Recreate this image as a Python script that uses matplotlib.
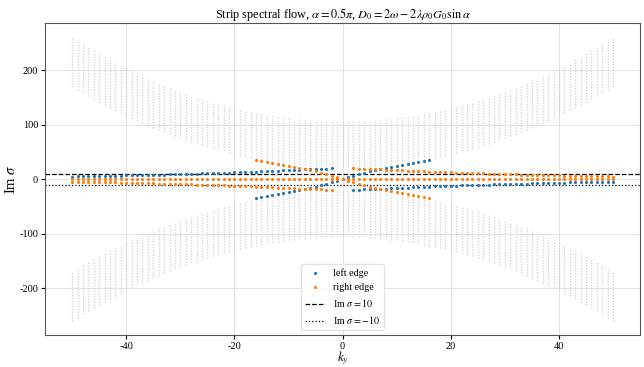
import numpy as np
import matplotlib
matplotlib.use("Agg")
import matplotlib.pyplot as plt

plt.rcParams['font.family'] = ['Liberation Serif', 'DejaVu Serif']
plt.rcParams['mathtext.fontset'] = 'stix'
plt.rcParams['axes.unicode_minus'] = False

# bulk band edges (upper band), for k_y = 0..50, symmetric in k_y
bulk_inner = [22, 22, 22, 23, 23, 23, 24, 25, 26, 27, 28, 29, 30, 32, 34, 35, 37, 39, 41, 43,
              46, 48, 51, 53, 56, 59, 62, 65, 68, 72, 75, 79, 82, 86, 90, 94, 98, 103, 107, 112,
              116, 121, 126, 131, 136, 141, 147, 152, 158, 163, 169]
bulk_outer = [106, 106, 106, 107, 107, 108, 108, 109, 110, 111, 112, 113, 115, 116, 118, 120, 122, 124, 126, 128,
              131, 133, 136, 139, 141, 144, 148, 151, 154, 158, 161, 165, 169, 173, 177, 181, 186, 190, 195, 200,
              205, 210, 215, 220, 225, 231, 236, 242, 248, 254, 260]

# flat edge branch near +-10, |k_y| = 2..50
flat_k = np.arange(2, 51)
flat_v = [19.5, 19.2, 18.9, 18.5, 18.1, 17.7, 17.3, 16.9, 16.5, 16.1, 15.6, 15.1, 14.6, 14.1, 13.7, 13.3,
          12.9, 12.5, 12.1, 11.8, 11.5, 11.2, 10.9, 10.6, 10.3, 10.0, 9.7, 9.4, 9.1, 8.8, 8.6, 8.3,
          8.1, 7.8, 7.6, 7.3, 7.1, 6.8, 6.6, 6.4, 6.2, 6.0, 5.8, 5.6, 5.4, 5.2, 5.0, 4.8, 4.6]

# chiral branch crossing zero, k_y = 0..16
steep_k = np.arange(0, 17)
steep_v = [0, 3, 6, 9, 11.5, 14, 16, 18, 20, 22, 23.5, 25, 27, 29, 31, 33, 35]

# zero mode row (right edge)
zero_k = np.arange(-50, 51)
zero_v = [0.0] * len(zero_k)

ks = np.arange(-50, 51)
inner = np.array(bulk_inner[:0:-1] + bulk_inner)
outer = np.array(bulk_outer[:0:-1] + bulk_outer)
flat_v = np.array(flat_v)
steep_v = np.array(steep_v)

fig, ax = plt.subplots(figsize=(6.44, 3.67), dpi=100)
fig.subplots_adjust(left=0.07, right=0.994, top=0.937, bottom=0.087)

ax.vlines(ks, inner, outer, colors='#d4d4d4', linestyles=(0, (1, 1)), lw=1.0, zorder=1)
ax.vlines(ks, -outer, -inner, colors='#d4d4d4', linestyles=(0, (1, 1)), lw=1.0, zorder=1)

blue_k = np.concatenate([-flat_k, flat_k, steep_k, -steep_k[1:]])
blue_v = np.concatenate([flat_v, -flat_v, steep_v, -steep_v[1:]])
orange_k = np.concatenate([flat_k, -flat_k, zero_k, steep_k, -steep_k[1:]])
orange_v = np.concatenate([flat_v, -flat_v, zero_v, -steep_v, steep_v[1:]])

ax.plot(blue_k, blue_v, ls='', marker='.', ms=2.5, color='#1f77b4', label='left edge', zorder=3)
ax.plot(orange_k, orange_v, ls='', marker='.', ms=2.5, color='#ff7f0e', label='right edge', zorder=3)

ax.axhline(10, color='black', ls='--', lw=0.9, label=r'Im $\sigma=10$')
ax.axhline(-10, color='black', ls=':', lw=0.9, label=r'Im $\sigma=-10$')

ax.set_title(r'Strip spectral flow, $\alpha=0.5\pi$, $D_0=2\omega-2\lambda\rho_0G_0\sin\alpha$',
             fontsize=8.8, pad=4)
ax.set_xlabel(r'$k_y$', fontsize=9.5, labelpad=-1)
ax.set_ylabel(r'Im $\sigma$', fontsize=10.5, labelpad=1)
ax.tick_params(labelsize=7.5, length=3, pad=2)
ax.grid(True, color='#e3e3e3', lw=0.7)
ax.set_axisbelow(True)
for s in ax.spines.values():
    s.set_color('#555555')

ax.legend(loc='lower center', fontsize=7.2, framealpha=0.8, edgecolor='#dddddd')

fig.savefig('out.png', dpi=100)
